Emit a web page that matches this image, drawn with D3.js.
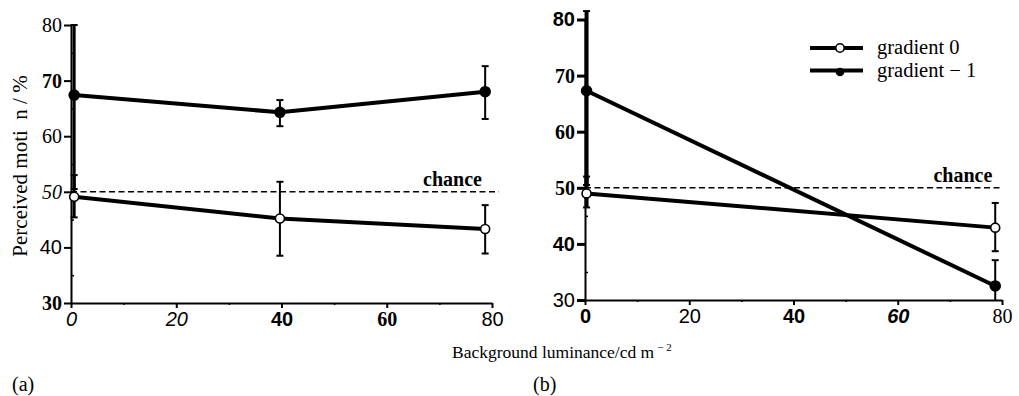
<!DOCTYPE html>
<html>
<head>
<meta charset="utf-8">
<script src="https://cdn.jsdelivr.net/npm/d3@7"></script>
<style>
  body { margin: 0; background: #fff; }
  svg { display: block; }
  .serif { font-family: "Liberation Serif", "Times New Roman", serif; }
</style>
</head>
<body>
<svg id="chart" width="1019" height="396"></svg>
<script>
// values
var xTicks = [0, 20, 40, 60, 80];
var yTicks = [30, 40, 50, 60, 70, 80];

// panel (a)
var lumA = [0.6, 39.7, 78.7];
var grad0A = [49.1, 45.2, 43.3];
var grad0A_lo = [45.4, 38.5, 38.9];
var grad0A_hi = [53.0, 51.8, 47.6];
var grad1A = [67.4, 64.3, 68.0];
var grad1A_lo = [50.5, 61.8, 63.1];
var grad1A_hi = [80.0, 66.5, 72.6];

// panel (b)
var lumB = [0.3, 78.7];
var grad0B = [49.0, 42.9];
var grad0B_lo = [46.5, 38.7];
var grad0B_hi = [52.0, 47.3];
var grad1B = [67.3, 32.5];
var grad1B_lo = [50.5, 30.0];
var grad1B_hi = [81.5, 37.1];

var chanceLevel = 50;
var legendLabels = ["gradient 0", "gradient \u2212 1"];

// the scan mixes typefaces on its tick labels; mimic that
var SERIF = "Liberation Serif, serif", SANS = "Liberation Sans, Arial, sans-serif";
var fontsA = {
  y: [[SERIF, "bold", "normal"], [SANS, "normal", "normal"], [SERIF, "normal", "italic"], [SERIF, "normal", "normal"], [SERIF, "bold", "normal"], [SERIF, "normal", "normal"]],
  x: [[SANS, "normal", "italic"], [SANS, "normal", "italic"], [SANS, "bold", "normal"], [SERIF, "bold", "normal"], [SANS, "normal", "normal"]]
};
var fontsB = {
  y: [[SANS, "normal", "normal"], [SANS, "bold", "normal"], [SERIF, "bold", "normal"], [SERIF, "bold", "normal"], [SERIF, "bold", "normal"], [SANS, "bold", "normal"]],
  x: [[SANS, "bold", "normal"], [SANS, "normal", "normal"], [SANS, "bold", "normal"], [SANS, "bold", "italic"], [SERIF, "normal", "normal"]]
};

var svg = d3.select("svg");

function pack(xs, m, lo, hi) {
  return xs.map(function(x, i) { return { x: x, y: m[i], lo: lo[i], hi: hi[i] }; });
}

function drawPanel(opt) {
  var x = d3.scaleLinear().domain([0, 80]).range(opt.xr);
  var y = d3.scaleLinear().domain([30, 80]).range(opt.yr);
  var g = svg.append("g");

  // minor ticks
  g.append("g")
    .attr("transform", "translate(0," + y(30) + ")")
    .call(d3.axisBottom(x).tickValues([10, 30, 50, 70]).tickSize(2).tickFormat(""))
    .call(function(a) { a.select(".domain").remove(); a.selectAll("line").attr("stroke-width", 1.5); });
  g.append("g")
    .attr("transform", "translate(" + x(0) + ",0)")
    .call(d3.axisRight(y).tickValues([35, 45, 55, 65, 75]).tickSize(3).tickFormat(""))
    .call(function(a) { a.select(".domain").remove(); a.selectAll("line").attr("stroke-width", 1.5); });

  // x axis
  var xa = g.append("g")
    .attr("transform", "translate(0," + y(30) + ")")
    .call(d3.axisBottom(x).tickValues(xTicks).tickSize(5).tickSizeOuter(0).tickPadding(4));
  xa.select(".domain").attr("stroke-width", 2);
  xa.selectAll("line").attr("stroke-width", 2);
  xa.selectAll("text")
    .attr("font-size", 20)
    .attr("fill", "#000")
    .each(function(d, i) {
      var f = opt.fonts.x[i];
      d3.select(this).attr("font-family", f[0]).attr("font-weight", f[1]).attr("font-style", f[2]);
    });

  // y axis
  var ya = g.append("g")
    .attr("transform", "translate(" + x(0) + ",0)")
    .call(d3.axisLeft(y).tickValues(yTicks).tickSize(opt.ytick).tickSizeOuter(0).tickPadding(2));
  ya.select(".domain").attr("stroke-width", 2);
  ya.selectAll("line").attr("stroke-width", opt.ytickW);
  ya.selectAll("text")
    .attr("font-size", 20)
    .attr("fill", "#000")
    .each(function(d, i) {
      var f = opt.fonts.y[i];
      d3.select(this).attr("font-family", f[0]).attr("font-weight", f[1]).attr("font-style", f[2]);
    });

  // chance line
  g.append("line")
    .attr("x1", x(0)).attr("x2", x(opt.chanceEnd))
    .attr("y1", y(chanceLevel)).attr("y2", y(chanceLevel))
    .attr("stroke", "#000").attr("stroke-width", 1.6)
    .attr("stroke-dasharray", "6,3.5");
  g.append("text")
    .attr("class", "serif")
    .attr("x", x(72.5)).attr("y", y(chanceLevel) - 6)
    .attr("text-anchor", "middle")
    .attr("font-size", 20).attr("font-weight", "bold")
    .text("chance");

  var line = d3.line().x(function(d) { return x(d.x); }).y(function(d) { return y(d.y); });

  opt.series.forEach(function(s) {
    // error bars
    var eb = g.append("g").selectAll("g").data(s.data).enter().append("g");
    eb.append("line")
      .attr("x1", function(d) { return x(d.x); }).attr("x2", function(d) { return x(d.x); })
      .attr("y1", function(d) { return y(d.lo); }).attr("y2", function(d) { return y(d.hi); })
      .attr("stroke", "#000")
      .attr("stroke-width", function(d) { return d.x < 1 ? opt.zeroBarW : 2; });
    ["lo", "hi"].forEach(function(k) {
      eb.filter(function(d) { return d[k] > 30.5; })
        .append("line")
        .attr("x1", function(d) { return x(d.x) - 3.5; }).attr("x2", function(d) { return x(d.x) + 3.5; })
        .attr("y1", function(d) { return y(d[k]); }).attr("y2", function(d) { return y(d[k]); })
        .attr("stroke", "#000").attr("stroke-width", 2);
    });

    g.append("path")
      .datum(s.data)
      .attr("d", line)
      .attr("fill", "none").attr("stroke", "#000")
      .attr("stroke-width", 4).attr("stroke-linejoin", "round");

    g.append("g").selectAll("circle").data(s.data).enter().append("circle")
      .attr("cx", function(d) { return x(d.x); })
      .attr("cy", function(d) { return y(d.y); })
      .attr("r", s.open ? 4.5 : 5)
      .attr("fill", s.open ? "#fff" : "#000")
      .attr("stroke", "#000").attr("stroke-width", 1.6);
  });

  return { g: g, x: x, y: y };
}

drawPanel({
  xr: [71, 492], yr: [303, 25], ytick: 7, ytickW: 2, zeroBarW: 3, chanceEnd: 81.3, fonts: fontsA,
  series: [
    { data: pack(lumA, grad1A, grad1A_lo, grad1A_hi), open: false },
    { data: pack(lumA, grad0A, grad0A_lo, grad0A_hi), open: true }
  ]
});

drawPanel({
  xr: [585, 1002], yr: [300, 19.5], ytick: 8, ytickW: 3, zeroBarW: 4, chanceEnd: 79.6, fonts: fontsB,
  series: [
    { data: pack(lumB, grad1B, grad1B_lo, grad1B_hi), open: false },
    { data: pack(lumB, grad0B, grad0B_lo, grad0B_hi), open: true }
  ]
});

// legend (panel b)
var leg = svg.append("g").selectAll("g").data(legendLabels).enter().append("g")
  .attr("transform", function(d, i) { return "translate(810," + (48 + i * 22.5) + ")"; });
leg.append("line")
  .attr("x1", 0).attr("x2", 53).attr("y1", 0).attr("y2", 0)
  .attr("stroke", "#000").attr("stroke-width", 4);
leg.append("circle")
  .attr("cx", 30).attr("cy", function(d, i) { return i ? 1.5 : 0; })
  .attr("r", function(d, i) { return i ? 3.5 : 4.2; })
  .attr("fill", function(d, i) { return i ? "#000" : "#fff"; })
  .attr("stroke", "#000").attr("stroke-width", 1.6);
leg.append("text")
  .attr("class", "serif")
  .attr("x", 67).attr("y", 6)
  .attr("font-size", 20.5)
  .attr("xml:space", "preserve")
  .text(function(d) { return d; });

// axis titles
svg.append("text")
  .attr("class", "serif")
  .attr("transform", "translate(27,166) rotate(-90)")
  .attr("text-anchor", "middle")
  .attr("font-size", 21)
  .attr("xml:space", "preserve")
  .text("Perceived moti  n / %");

var xt = svg.append("text")
  .attr("class", "serif")
  .attr("x", 452).attr("y", 358)
  .attr("font-size", 17.5);
xt.append("tspan").text("Background luminance/cd m");
xt.append("tspan").attr("font-size", 11).attr("dy", -7).attr("dx", 3).text("\u2212 2");

svg.append("text").attr("class", "serif").attr("x", 12).attr("y", 391).attr("font-size", 20).text("(a)");
svg.append("text").attr("class", "serif").attr("x", 533).attr("y", 391).attr("font-size", 20).text("(b)");
</script>
</body>
</html>
